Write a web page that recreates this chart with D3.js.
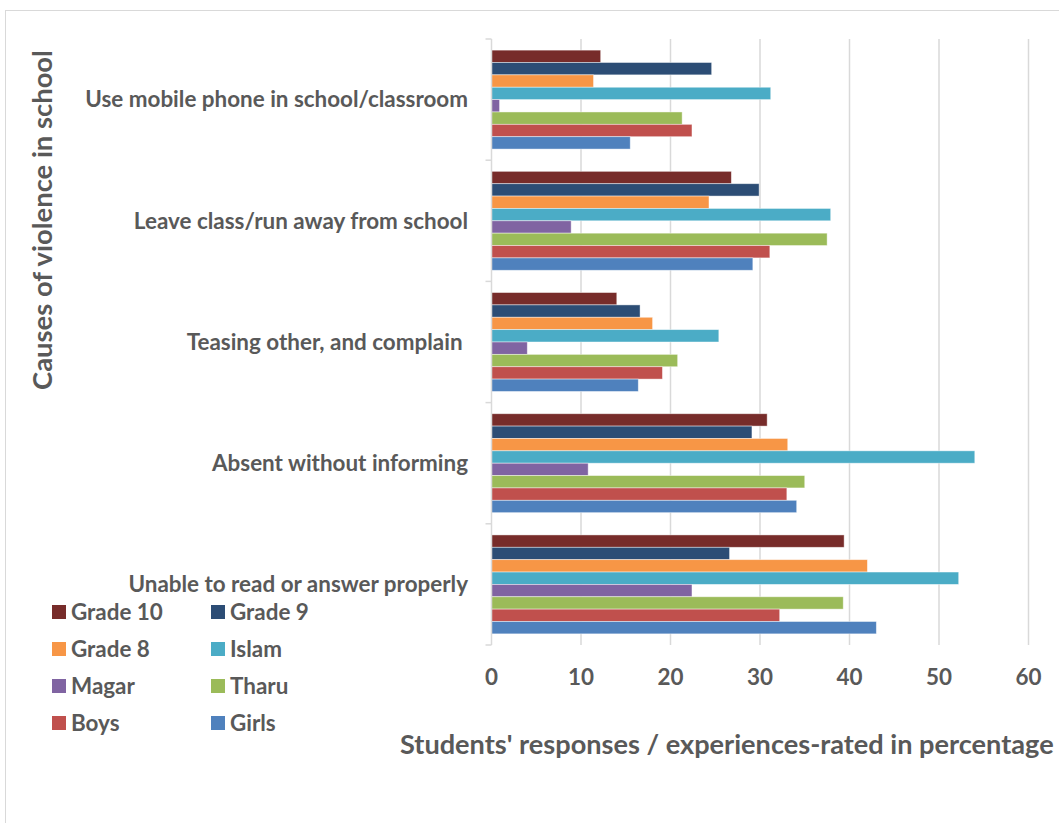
<!DOCTYPE html>
<html>
<head>
<meta charset="utf-8">
<script src="https://cdn.jsdelivr.net/npm/d3@7/dist/d3.min.js"></script>
<style>
  html, body { margin: 0; padding: 0; background: #fff; }
  svg { display: block; }
  text { font-family: Lato, "Open Sans", sans-serif; font-weight: bold; fill: #595959; }
</style>
</head>
<body>
<svg id="chart" width="1059" height="823"></svg>
<script>
// Causes (top to bottom)
const categories = [
  "Use mobile phone in school/classroom",
  "Leave class/run away from school",
  "Teasing other, and complain ",
  "Absent without informing",
  "Unable to read or answer properly"
];

// Series, drawn top to bottom within each cause
const seriesNames = ["Grade 10", "Grade 9", "Grade 8", "Islam", "Magar", "Tharu", "Boys", "Girls"];
const seriesColors = ["#772C2A", "#2C4D75", "#F79646", "#4BACC6", "#8064A2", "#9BBB59", "#C0504D", "#4F81BD"];

// Percentages per series, in the same order as categories
const grade10 = [12.2, 26.8, 14.0, 30.8, 39.4];
const grade9  = [24.6, 29.9, 16.6, 29.1, 26.6];
const grade8  = [11.4, 24.3, 18.0, 33.1, 42.0];
const islam   = [31.2, 37.9, 25.4, 54.0, 52.2];
const magar   = [0.9, 8.9, 4.0, 10.8, 22.4];
const tharu   = [21.3, 37.5, 20.8, 35.0, 39.3];
const boys    = [22.4, 31.1, 19.1, 33.0, 32.2];
const girls   = [15.5, 29.2, 16.4, 34.1, 43.0];
const seriesValues = [grade10, grade9, grade8, islam, magar, tharu, boys, girls];

const xTicks = [0, 10, 20, 30, 40, 50, 60];

const svg = d3.select("#chart");
const plot = { left: 491.5, right: 1028.5, top: 39, bottom: 645 };

// outer frame
svg.append("rect")
  .attr("x", 5.5).attr("y", 10.5)
  .attr("width", 1100).attr("height", 900)
  .attr("fill", "none").attr("stroke", "#d9d9d9").attr("stroke-width", 1);

const x = d3.scaleLinear().domain([0, 60]).range([plot.left, plot.right]);
const y = d3.scaleBand().domain(categories).range([plot.top, plot.bottom]).paddingInner(0).paddingOuter(0);
const ySub = d3.scaleBand().domain(seriesNames).range([0, y.bandwidth()]).paddingInner(0).paddingOuter(0.9);

// vertical gridlines
svg.append("g")
  .selectAll("line")
  .data(xTicks.filter(t => t > 0))
  .join("line")
  .attr("x1", d => x(d)).attr("x2", d => x(d))
  .attr("y1", plot.top).attr("y2", plot.bottom)
  .attr("stroke", "#d9d9d9").attr("stroke-width", 1.5);

// bars
const groups = svg.append("g")
  .selectAll("g")
  .data(categories)
  .join("g")
  .attr("transform", d => `translate(0,${y(d)})`);

groups.selectAll("rect")
  .data((c, ci) => seriesNames.map((s, si) => ({ s, si, v: seriesValues[si][ci] })))
  .join("rect")
  .attr("x", x(0))
  .attr("y", d => ySub(d.s))
  .attr("width", d => x(d.v) - x(0))
  .attr("height", ySub.bandwidth())
  .attr("fill", d => seriesColors[d.si])
  .attr("stroke", "rgba(255,255,255,0.55)")
  .attr("stroke-width", 0.8);

// category axis line and boundary ticks
svg.append("line")
  .attr("x1", plot.left).attr("x2", plot.left)
  .attr("y1", plot.top).attr("y2", plot.bottom)
  .attr("stroke", "#d9d9d9").attr("stroke-width", 1.5);

const bounds = categories.map(c => y(c)).concat([plot.bottom]);
svg.append("g")
  .selectAll("line")
  .data(bounds)
  .join("line")
  .attr("x1", plot.left - 6).attr("x2", plot.left)
  .attr("y1", d => d).attr("y2", d => d)
  .attr("stroke", "#d9d9d9").attr("stroke-width", 1.5);

// category labels
const catLabels = svg.append("g")
  .selectAll("text")
  .data(categories)
  .join("text")
  .attr("x", 468)
  .attr("y", d => y(d) + y.bandwidth() / 2)
  .attr("dy", "0.35em")
  .attr("text-anchor", "end")
  .style("white-space", "pre")
  .style("font-size", "18px")
  .text(d => d);

// fit the label font so the longest label spans its space
const longest = catLabels.filter((d, i) => i === 0).node().getComputedTextLength();
const labelSize = 18 * 383 / longest;
catLabels.style("font-size", labelSize + "px");

// value tick labels
svg.append("g")
  .selectAll("text")
  .data(xTicks)
  .join("text")
  .attr("x", d => x(d))
  .attr("y", 677)
  .attr("dy", "0.35em")
  .attr("text-anchor", "middle")
  .style("font-size", labelSize + "px")
  .text(d => d);

// axis titles
const xTitle = svg.append("text")
  .attr("x", 400).attr("y", 744)
  .attr("dy", "0.35em")
  .style("font-size", "22px")
  .text("Students' responses / experiences-rated in percentage");
const xtw = xTitle.node().getComputedTextLength();
xTitle.style("font-size", (22 * 654 / xtw) + "px");

const yTitle = svg.append("text")
  .attr("transform", "translate(42,220) rotate(-90)")
  .attr("dy", "0.35em")
  .attr("text-anchor", "middle")
  .style("font-size", "22px")
  .text("Causes of violence in school");
const ytw = yTitle.node().getComputedTextLength();
yTitle.style("font-size", (22 * 340 / ytw) + "px");

// legend
const legendCols = [52, 211];
const legendRows = [612, 649, 686, 723];
const legend = svg.append("g")
  .selectAll("g")
  .data(seriesNames)
  .join("g")
  .attr("transform", (d, i) => `translate(${legendCols[i % 2]},${legendRows[Math.floor(i / 2)]})`);

legend.append("rect")
  .attr("x", 0).attr("y", -7)
  .attr("width", 14).attr("height", 14)
  .attr("fill", (d, i) => seriesColors[i]);

legend.append("text")
  .attr("x", 19)
  .attr("dy", "0.35em")
  .style("font-size", labelSize + "px")
  .text(d => d);
</script>
</body>
</html>
